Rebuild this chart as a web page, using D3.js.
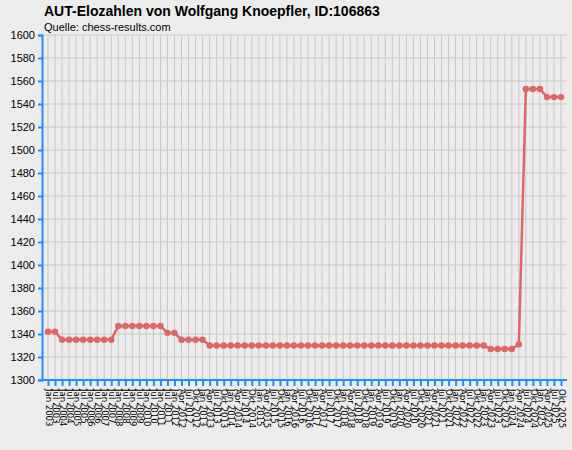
<!DOCTYPE html>
<html><head><meta charset="utf-8">
<script src="https://cdn.jsdelivr.net/npm/d3@7"></script>
<style>body{margin:0;background:#ececec}svg{display:block}</style></head>
<body><svg id="c" width="572" height="450"></svg>
<script>
const title = "AUT-Elozahlen von Wolfgang Knoepfler, ID:106863";
const subtitle = "Quelle: chess-results.com";
const labels = [];
for (let y = 2003; y <= 2011; y++) { labels.push("Jan " + y, "Jul " + y); }
for (let y = 2012; y <= 2025; y++) { labels.push("Jan " + y, "Apr " + y, "Jul " + y, "Okt " + y); }
const values = [1342,1342,
 1335,1335,1335,1335,1335,1335,1335,1335,
 1347,1347,1347,1347,1347,1347,1347,
 1341,1341,
 1335,1335,1335,1335,
 ...Array(40).fill(1330),
 1327,1327,1327,1327,
 1331,
 1553,1553,1553,
 1546,1546,1546];
const yTicks = d3.range(1300, 1601, 20);

const svg = d3.select("#c");
const L = 42, R = 567, T = 35, B = 380;
const x = d3.scalePoint().domain(labels).range([L + 6, R - 6]);
const y = d3.scaleLinear().domain([1300, 1600]).range([B, T]);

svg.append("text").attr("x", 44).attr("y", 16).attr("font-family", "Liberation Sans, Arial")
  .attr("font-weight", "bold").attr("font-size", 14).text(title);
svg.append("text").attr("x", 44).attr("y", 31).attr("font-family", "Liberation Sans, Arial")
  .attr("font-size", 11).text(subtitle);

const g = svg.append("g");
g.selectAll(".vg").data(labels).join("line").attr("x1", d => x(d)).attr("x2", d => x(d))
  .attr("y1", T).attr("y2", B).attr("stroke", "#c8c8c8");
g.selectAll(".hg").data(yTicks).join("line").attr("x1", L).attr("x2", R)
  .attr("y1", d => y(d)).attr("y2", d => y(d)).attr("stroke", "#c8c8c8");

const blue = "#1e8fff";
const ya = svg.append("g").attr("transform", `translate(${L},0)`)
  .call(d3.axisLeft(y).tickValues(yTicks).tickSize(4).tickFormat(d3.format("d")));
ya.select(".domain").attr("stroke", blue).attr("stroke-width", 2);
ya.selectAll(".tick line").attr("stroke", blue).attr("stroke-width", 2);
ya.selectAll("text").attr("font-family", "Liberation Sans, Arial").attr("font-size", 11).attr("fill", "#000");

const xa = svg.append("g").attr("transform", `translate(0,${B})`)
  .call(d3.axisBottom(x).tickSize(6).tickSizeOuter(0));
xa.select(".domain").attr("stroke", blue).attr("stroke-width", 2).attr("d", `M${L},0H${R}`);
xa.selectAll(".tick line").attr("stroke", blue).attr("stroke-width", 2);
xa.selectAll("text").attr("font-family", "DejaVu Sans, Arial").attr("font-size", 8.5).attr("fill", "#000")
  .attr("transform", "rotate(90)").attr("text-anchor", "start").attr("x", 9).attr("y", 0).attr("dy", "0.33em");

const red = "#e06666";
svg.append("path").datum(values).attr("fill", "none").attr("stroke", red).attr("stroke-width", 2.5)
  .attr("d", d3.line().x((d, i) => x(labels[i])).y(d => y(d)));
svg.selectAll(".pt").data(values).join("circle").attr("cx", (d, i) => x(labels[i]))
  .attr("cy", d => y(d)).attr("r", 3.2).attr("fill", red);
</script></body></html>
